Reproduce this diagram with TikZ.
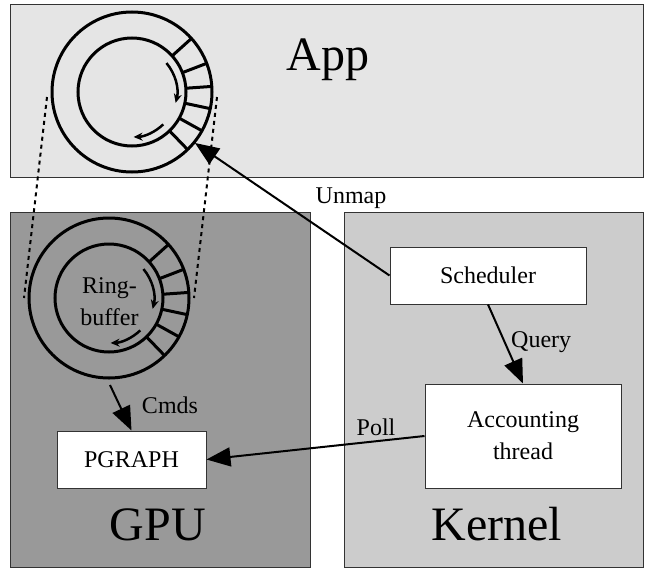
\documentclass[tikz,border=0pt]{standalone}
\usepackage{fontspec}
\setmainfont{Liberation Serif}
\usetikzlibrary{arrows.meta}
\definecolor{appfill}{HTML}{E5E5E5}
\definecolor{gpufill}{HTML}{999999}
\definecolor{kernfill}{HTML}{CCCCCC}
\tikzset{
  region/.style={draw=black!80, line width=1pt, inner sep=0pt, outer sep=0pt},
  procbox/.style={draw=black!80, line width=1pt, fill=white, inner sep=0pt, align=center, font=\fontsize{24}{32}\selectfont},
  biglabel/.style={font=\fontsize{48}{54}\selectfont, anchor=base, inner sep=0pt},
  edgelabel/.style={font=\fontsize{24}{28}\selectfont, inner sep=0pt},
  flow/.style={line width=2pt, -{Triangle[length=24pt,width=19pt]}},
  ringline/.style={line width=3pt},
  ringarrow/.style={line width=2.5pt, -{Stealth[length=9pt,width=8pt]}},
  mapline/.style={line width=2pt, dash pattern=on 4pt off 4pt},
  ringbuf/.pic={
    \begin{scope}[x=1pt,y=1pt]
      \draw[ringline] (0,0) circle[radius=80pt];
      \draw[ringline] (0,0) circle[radius=54pt];
      \foreach \a in {42,21,4,-12,-29,-46} \draw[ringline] (\a:54pt) -- (\a:80pt);
      \draw[ringarrow] (40:45pt) arc[start angle=40, end angle=-14, radius=45pt];
      \draw[ringarrow] (-46:45pt) arc[start angle=-46, end angle=-88, radius=45pt];
      \coordinate (-tl) at (-85,-5);
      \coordinate (-tr) at (85,-5);
      \coordinate (-bl) at (-85,0);
      \coordinate (-br) at (85,0);
      \coordinate (-hit) at (-39:81pt);
      \coordinate (-bot) at (1,-87);
    \end{scope}
  }
}
\begin{document}
\begin{tikzpicture}[x=1pt,y=-1pt]
  \useasboundingbox (0,0) rectangle (647,570);
  % regions
  \node[region, fill=appfill, minimum width=633pt, minimum height=173pt] (app) at (326.5,90.5) {};
  \node[region, fill=gpufill, minimum width=300pt, minimum height=355pt] (gpu) at (160,389.5) {};
  \node[region, fill=kernfill, minimum width=299pt, minimum height=355pt] (kernel) at (493.5,389.5) {};
  \node[biglabel] (applbl) at (328,70) {App};
  \node[biglabel] (gpulbl) at (158,540) {GPU};
  \node[biglabel] (kernlbl) at (497,540) {Kernel};
  % ring buffers
  \pic (appring) at (132,92) {ringbuf};
  \pic (gpuring) at (109,298) {ringbuf};
  \node[edgelabel, align=center, font=\fontsize{24}{32}\selectfont] (rblbl) at (109.5,302) {Ring-\\buffer};
  \draw[mapline] (appring-tl) -- (gpuring-bl);
  \draw[mapline] (appring-tr) -- (gpuring-br);
  % process boxes
  \node[procbox, minimum width=196pt, minimum height=57pt] (sched) at (488,275.5) {Scheduler};
  \node[procbox, minimum width=196pt, minimum height=104pt] (acct) at (523,436) {Accounting\\thread};
  \node[procbox, minimum width=149pt, minimum height=57pt] (pgraph) at (131.5,459.5) {PGRAPH};
  % connectors
  \draw[flow] (sched.west) -- (appring-hit);
  \node[edgelabel] (unmaplbl) at (351,198) {Unmap};
  \draw[flow] (sched.south) -- (acct.north);
  \node[edgelabel, anchor=west] (querylbl) at (511,342) {Query};
  \draw[flow] (acct.west) -- (pgraph.east);
  \node[edgelabel, anchor=base] (polllbl) at (376,435) {Poll};
  \draw[flow] (gpuring-bot) -- (pgraph.north);
  \node[edgelabel, anchor=base] (cmdslbl) at (170,413) {Cmds};
\end{tikzpicture}
\end{document}
